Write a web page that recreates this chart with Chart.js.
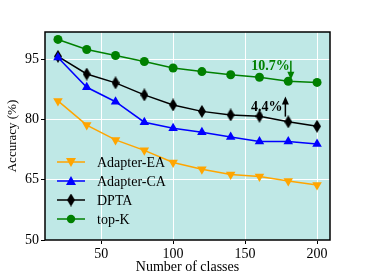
<!DOCTYPE html>
<html><head><meta charset="utf-8">
<script src="https://cdn.jsdelivr.net/npm/chart.js@4.4.1/dist/chart.umd.min.js"></script>
<style>html,body{margin:0;padding:0;background:#fff}#w{width:366px;height:274px}</style>
</head><body><div id="w"><canvas id="c"></canvas></div>
<script>
const classes = [20,40,60,80,100,120,140,160,180,200];
const adapterEA = [84.6,78.6,74.9,72.3,69.3,67.6,66.3,65.8,64.7,63.7];
const adapterCA = [95.4,88.0,84.4,79.3,77.8,76.8,75.6,74.5,74.5,73.9];
const dpta      = [95.7,91.3,89.1,86.1,83.6,82.0,81.1,80.8,79.4,78.3];
const topK      = [99.9,97.4,95.9,94.4,92.8,91.9,91.1,90.5,89.5,89.2];
const yTicks = [50,65,80,95];
const xTicks = [50,100,150,200];
const seriesNames = ['Adapter-EA','Adapter-CA','DPTA','top-K'];
const annotations = [
  {text:'10.7%', color:'#008000', tx:181, ty:93.2, ax:181.8, from:94.6, to:89.9},
  {text:'4.4%',  color:'#000000', tx:176, ty:83.1, ax:178, from:80.7, to:85.7}
];
const FONT = "'Liberation Serif','DejaVu Serif',serif";

function thinDiamond(color){
  const cv=document.createElement('canvas'); cv.width=8; cv.height=13;
  const g=cv.getContext('2d'); g.fillStyle=color; g.beginPath();
  g.moveTo(4,0); g.lineTo(8,6.5); g.lineTo(4,13); g.lineTo(0,6.5); g.closePath(); g.fill();
  return cv;
}
const diamond = thinDiamond('#000');

const plot = {
  id:'plot',
  beforeDraw(ch){
    const a=ch.chartArea, x=ch.ctx;
    x.save(); x.fillStyle='#bfe8e6'; x.fillRect(a.left,a.top,a.right-a.left,a.bottom-a.top); x.restore();
  },
  afterDatasetsDraw(ch){
    const a=ch.chartArea, x=ch.ctx, xs=ch.scales.x, ys=ch.scales.y;
    x.save();
    x.strokeStyle='#000'; x.lineWidth=1.5;
    x.strokeRect(a.left,a.top,a.right-a.left,a.bottom-a.top);
    annotations.forEach(n=>{
      x.fillStyle=n.color; x.strokeStyle=n.color;
      x.font="bold 14px "+FONT; x.textAlign='right'; x.textBaseline='middle';
      x.fillText(n.text, xs.getPixelForValue(n.tx), ys.getPixelForValue(n.ty));
      const px=xs.getPixelForValue(n.ax), y0=ys.getPixelForValue(n.from), y1=ys.getPixelForValue(n.to);
      const dir = y1>y0?1:-1;
      x.lineWidth=1.5; x.beginPath(); x.moveTo(px,y0); x.lineTo(px,y1-dir*6); x.stroke();
      x.beginPath(); x.moveTo(px,y1); x.lineTo(px-3.5,y1-dir*8); x.lineTo(px+3.5,y1-dir*8); x.closePath(); x.fill();
    });
    const lx=a.left+12, ly=162, gap=19;
    ch.data.datasets.forEach((d,i)=>{
      const yy=ly+i*gap;
      x.strokeStyle=d.borderColor; x.lineWidth=1.5;
      x.beginPath(); x.moveTo(lx,yy); x.lineTo(lx+28,yy); x.stroke();
      const cx=lx+14;
      x.fillStyle=d.borderColor;
      if(i===0){x.beginPath();x.moveTo(cx-5,yy-4);x.lineTo(cx+5,yy-4);x.lineTo(cx,yy+5);x.closePath();x.fill();}
      else if(i===1){x.beginPath();x.moveTo(cx-5,yy+4);x.lineTo(cx+5,yy+4);x.lineTo(cx,yy-5);x.closePath();x.fill();}
      else if(i===2){x.drawImage(diamond,cx-4,yy-6.5);}
      else {x.beginPath();x.arc(cx,yy,4.2,0,Math.PI*2);x.fill();}
      x.fillStyle='#000'; x.font="14px "+FONT; x.textAlign='left'; x.textBaseline='middle';
      x.fillText(d.label, lx+40, yy+1);
    });
    x.restore();
  }
};

function ds(label,data,color,style,rot,r){
  return {label,data:data.map((v,i)=>({x:classes[i],y:v})),borderColor:color,backgroundColor:color,
    borderWidth:1.5,pointStyle:style,rotation:rot,pointRadius:r,pointHoverRadius:r,pointBorderWidth:0,tension:0};
}

new Chart(document.getElementById('c'),{
  type:'line',
  data:{datasets:[
    ds(seriesNames[0],adapterEA,'#FFA500','triangle',180,5.5),
    ds(seriesNames[1],adapterCA,'#0000FF','triangle',0,5.5),
    ds(seriesNames[2],dpta,'#000000',diamond,0,6),
    ds(seriesNames[3],topK,'#008000','circle',0,4.5)
  ]},
  options:{
    responsive:true, maintainAspectRatio:false, animation:false,
    layout:{padding:{top:32,right:36,left:0,bottom:0}},
    plugins:{legend:{display:false},tooltip:{enabled:false}},
    scales:{
      x:{type:'linear',min:11,max:209,
        afterBuildTicks(s){s.ticks=xTicks.map(v=>({value:v}));},
        afterFit(s){s.height=34;},
        grid:{color:'#ffffff',lineWidth:1,tickColor:'#000',tickLength:4,drawTicks:true},
        border:{display:false},
        ticks:{color:'#000',font:{family:FONT,size:14},padding:2,maxRotation:0},
        title:{display:true,text:'Number of classes',color:'#000',font:{family:FONT,size:14,lineHeight:0.9},padding:{top:2,bottom:0}}
      },
      y:{min:50,max:101.75,
        afterBuildTicks(s){s.ticks=yTicks.map(v=>({value:v}));},
        afterFit(s){s.width=45;},
        grid:{color:'#ffffff',lineWidth:1,tickColor:'#000',tickLength:4,drawTicks:true},
        border:{display:false},
        ticks:{color:'#000',font:{family:FONT,size:14},padding:2},
        title:{display:true,text:'Accuracy (%)',color:'#000',font:{family:FONT,size:13},padding:{top:5,bottom:0}}
      }
    }
  },
  plugins:[plot]
});
</script></body></html>
